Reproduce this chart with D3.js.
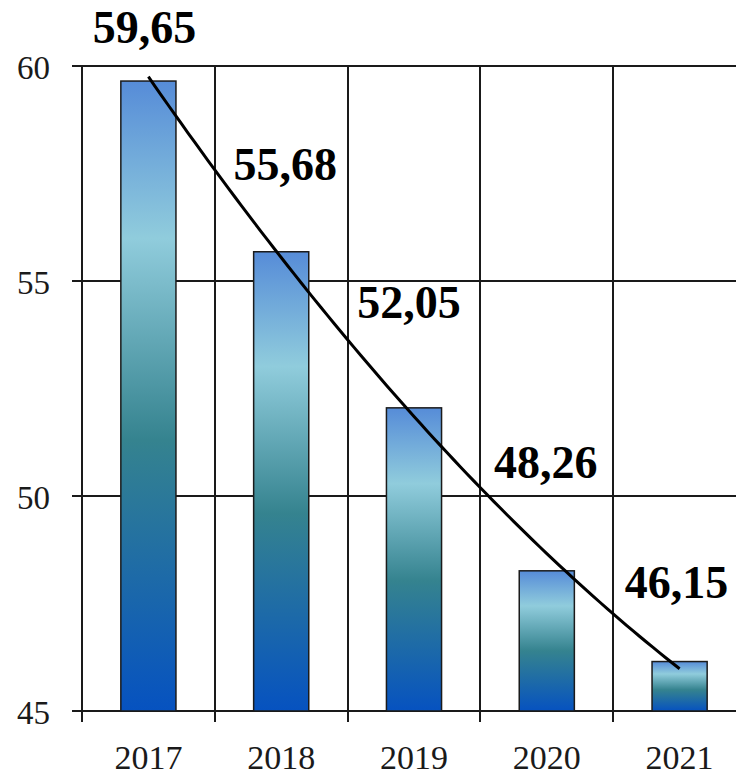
<!DOCTYPE html>
<html><head><meta charset="utf-8">
<script src="https://cdn.jsdelivr.net/npm/d3@7"></script>
<style>html,body{margin:0;padding:0;background:#fff;} svg{display:block}</style>
</head><body>
<svg id="chart" width="736" height="775"></svg>
<script>
// ---- data ----
const years = ["2017", "2018", "2019", "2020", "2021"];
const values = [59.65, 55.68, 52.05, 48.26, 46.15];
const valueLabels = ["59,65", "55,68", "52,05", "48,26", "46,15"];
const yTicks = [45, 50, 55, 60];
const yDomain = [45, 60];

// ---- layout / style ----
const plot = {left: 82, right: 746, top: 66, bottom: 711};
const labelDx = [-4, 4, -5, -1, -3];
const labelDy = [-38, -72, -90, -93, -64];
const serif = "'Liberation Serif', 'Times New Roman', serif";

const svg = d3.select("#chart");
const x = d3.scaleBand().domain(years).range([plot.left, plot.right]).padding(0);
const y = d3.scaleLinear().domain(yDomain).range([plot.bottom, plot.top]);
const barW = x.bandwidth() * 0.415;

// gradient
const defs = svg.append("defs");
const grad = defs.append("linearGradient").attr("id", "barGrad")
  .attr("x1", 0).attr("y1", 0).attr("x2", 0).attr("y2", 1);
[[0, "#568cd8"], [0.25, "#90ccdc"], [0.57, "#35838f"], [1, "#0652c0"]].forEach(([o, c]) =>
  grad.append("stop").attr("offset", o).attr("stop-color", c));

const gridColor = "#1a1a1a";
// horizontal gridlines (with outward tick)
svg.append("g").selectAll("line").data(yTicks).join("line")
  .attr("x1", plot.left - 10).attr("x2", plot.right)
  .attr("y1", d => Math.round(y(d))).attr("y2", d => Math.round(y(d)))
  .attr("stroke", gridColor).attr("stroke-width", 2);

// vertical gridlines at band boundaries (with tick below axis)
const bounds = years.map(d => x(d)).concat([x(years[years.length - 1]) + x.bandwidth()]);
svg.append("g").selectAll("line").data(bounds).join("line")
  .attr("x1", d => Math.round(d)).attr("x2", d => Math.round(d))
  .attr("y1", plot.top).attr("y2", plot.bottom + 11)
  .attr("stroke", gridColor).attr("stroke-width", 2);

// y tick labels
svg.append("g").selectAll("text").data(yTicks).join("text")
  .attr("x", 50).attr("y", d => y(d) + 13)
  .attr("text-anchor", "end")
  .attr("font-family", serif).attr("font-size", 33).attr("fill", "#1a1a1a")
  .text(d => d);

// x labels
svg.append("g").selectAll("text").data(years).join("text")
  .attr("x", d => x(d) + x.bandwidth() / 2).attr("y", 769)
  .attr("text-anchor", "middle")
  .attr("font-family", serif).attr("font-size", 34).attr("fill", "#1a1a1a")
  .text(d => d);

// bars
svg.append("g").selectAll("rect").data(values).join("rect")
  .attr("x", (d, i) => x(years[i]) + x.bandwidth() / 2 - barW / 2)
  .attr("width", barW)
  .attr("y", d => y(d))
  .attr("height", d => y(yDomain[0]) - y(d))
  .attr("fill", "url(#barGrad)")
  .attr("stroke", "#1b1b1b").attr("stroke-width", 1.5);

// polynomial (2nd order) trendline fitted to the values
const n = values.length;
const xs = d3.range(n);
const xm = d3.mean(xs), ym = d3.mean(values);
const p1 = xs.map(v => v - xm);
const p2Raw = p1.map(v => v * v);
const p2m = d3.mean(p2Raw);
const p2 = p2Raw.map(v => v - p2m);
const b1 = d3.sum(values.map((v, i) => v * p1[i])) / d3.sum(p1.map(v => v * v));
const b2 = d3.sum(values.map((v, i) => v * p2[i])) / d3.sum(p2.map(v => v * v));
const fit = t => ym + b1 * (t - xm) + b2 * ((t - xm) * (t - xm) - p2m);
const step = x.step();
const cx0 = x(years[0]) + x.bandwidth() / 2;
const samples = d3.range(0, n - 1 + 1e-9, 0.05);
svg.append("path")
  .datum(samples)
  .attr("d", d3.line().x(t => cx0 + t * step).y(t => y(fit(t))))
  .attr("fill", "none").attr("stroke", "#000").attr("stroke-width", 3);

// value labels
svg.append("g").selectAll("text").data(values).join("text")
  .attr("x", (d, i) => x(years[i]) + x.bandwidth() / 2 + labelDx[i])
  .attr("y", (d, i) => y(d) + labelDy[i])
  .attr("text-anchor", "middle")
  .attr("font-family", serif).attr("font-size", 46).attr("font-weight", "bold")
  .attr("fill", "#000")
  .text((d, i) => valueLabels[i]);
</script>
</body></html>
